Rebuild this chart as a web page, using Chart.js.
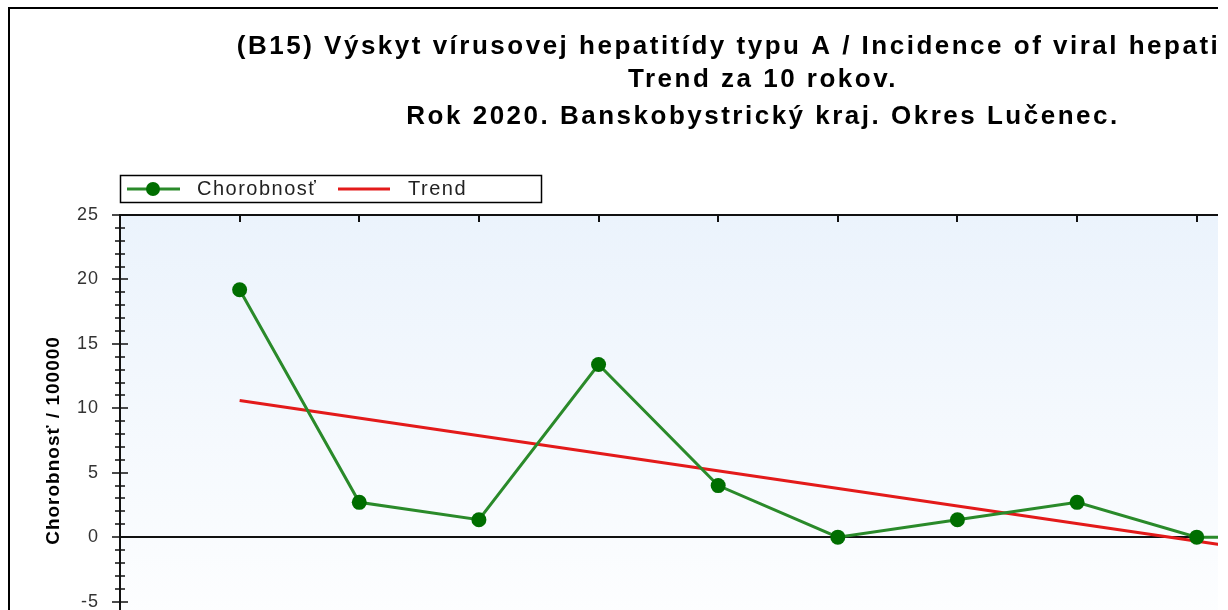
<!DOCTYPE html>
<html>
<head>
<meta charset="utf-8">
<script src="https://cdn.jsdelivr.net/npm/chart.js@4.4.1/dist/chart.umd.min.js"></script>
<style>
  html, body { margin: 0; padding: 0; background: #fff; }
  #clip { position: absolute; left: 0; top: 0; width: 1218px; height: 610px; overflow: hidden; }
  #frame { position: absolute; left: 8px; top: 7px; border: 2px solid #000; background: #fff; }
  #chart { display: block; }
</style>
</head>
<body>
<div id="clip">
  <div id="frame">
    <canvas id="chart" width="1506" height="720"></canvas>
  </div>
</div>
<script>
// hodnoty odčítané z grafu
const titleLines = [
  '(B15) Výskyt vírusovej hepatitídy typu A / Incidence of viral hepatitis A',
  'Trend za 10 rokov.',
  'Rok 2020. Banskobystrický kraj. Okres Lučenec.'
];
const years = [2011, 2012, 2013, 2014, 2015, 2016, 2017, 2018, 2019, 2020];
const morbidity = [19.2, 2.7, 1.35, 13.4, 4.0, 0, 1.35, 2.7, 0, 0];
const trendYears = [2011, 2020];
const trendValues = [10.6, -1.67];
const yTicks = [-10, -5, 0, 5, 10, 15, 20, 25];
const yTitle = 'Chorobnosť / 100000';

const GREEN = '#2a8a2a';
const GREEN_DOT = '#006e00';
const RED = '#e31a1a';

// pozadie, rámik, značky na osiach, nadpis a legenda
const decor = {
  id: 'decor',
  beforeDraw(chart) {
    const { ctx, chartArea: a } = chart;
    ctx.save();
    const g = ctx.createLinearGradient(0, a.top, 0, a.bottom);
    g.addColorStop(0, '#ebf3fc');
    g.addColorStop(1, '#ffffff');
    ctx.fillStyle = g;
    ctx.fillRect(a.left, a.top, a.right - a.left, a.bottom - a.top);
    ctx.restore();
    ctx.letterSpacing = '1px';
  },
  afterDraw(chart) {
    const { ctx, chartArea: a, scales } = chart;
    ctx.save();
    ctx.letterSpacing = '0px';
    ctx.strokeStyle = '#111';
    ctx.lineWidth = 2;
    ctx.strokeRect(a.left, a.top, a.right - a.left, a.bottom - a.top);

    // x značky dovnútra
    ctx.beginPath();
    years.forEach(y => {
      const x = Math.round(scales.x.getPixelForValue(y));
      ctx.moveTo(x, a.top); ctx.lineTo(x, a.top + 7);
      ctx.moveTo(x, a.bottom); ctx.lineTo(x, a.bottom - 7);
    });
    ctx.stroke();
    // y značky krížom cez os
    ctx.lineWidth = 1.5;
    ctx.beginPath();
    for (let v = scales.y.min; v <= scales.y.max; v++) {
      const y = Math.round(scales.y.getPixelForValue(v));
      const len = v % 5 === 0 ? 8 : 5;
      ctx.moveTo(a.left - len, y); ctx.lineTo(a.left + len, y);
    }
    ctx.stroke();

    // nadpis
    ctx.fillStyle = '#000';
    ctx.font = 'bold 26px "Liberation Sans", Arial, sans-serif';
    ctx.letterSpacing = '2.5px';
    ctx.textAlign = 'center';
    ctx.textBaseline = 'middle';
    const ys = [38, 71, 108];
    titleLines.forEach((t, i) => ctx.fillText(t, chart.width / 2, ys[i]));

    // legenda
    const lx = a.left, ly = 166, lw = 421, lh = 27;
    ctx.fillStyle = '#fff';
    ctx.fillRect(lx, ly, lw, lh);
    ctx.strokeStyle = '#000';
    ctx.lineWidth = 1.5;
    ctx.strokeRect(lx + 0.5, ly + 0.5, lw, lh);
    const my = ly + lh / 2 + 0.5;
    const ds = chart.data.datasets;
    ctx.lineWidth = 3;
    ctx.strokeStyle = ds[0].borderColor;
    ctx.beginPath(); ctx.moveTo(lx + 7, my); ctx.lineTo(lx + 60, my); ctx.stroke();
    ctx.fillStyle = ds[0].pointBackgroundColor;
    ctx.beginPath(); ctx.arc(lx + 33, my, 7, 0, Math.PI * 2); ctx.fill();
    ctx.strokeStyle = ds[1].borderColor;
    ctx.beginPath(); ctx.moveTo(lx + 218, my); ctx.lineTo(lx + 270, my); ctx.stroke();
    ctx.fillStyle = '#222';
    ctx.font = '20px "Liberation Sans", Arial, sans-serif';
    ctx.letterSpacing = '1.5px';
    ctx.textAlign = 'left';
    ctx.fillText(ds[0].label, lx + 77, my);
    ctx.fillText(ds[1].label, lx + 288, my);
    ctx.restore();
  }
};

const ctx = document.getElementById('chart').getContext('2d');
new Chart(ctx, {
  type: 'line',
  data: {
    datasets: [
      {
        label: 'Chorobnosť',
        data: years.map((y, i) => ({ x: y, y: morbidity[i] })),
        borderColor: GREEN,
        borderWidth: 3,
        pointRadius: 7.5,
        pointBackgroundColor: GREEN_DOT,
        pointBorderColor: GREEN_DOT,
        pointBorderWidth: 0,
        tension: 0,
        order: 1
      },
      {
        label: 'Trend',
        data: trendYears.map((y, i) => ({ x: y, y: trendValues[i] })),
        borderColor: RED,
        borderWidth: 3,
        pointRadius: 0,
        tension: 0,
        order: 2
      }
    ]
  },
  options: {
    responsive: false,
    animation: false,
    layout: { padding: { top: 206, left: 0, right: 80, bottom: 23 } },
    plugins: {
      legend: { display: false },
      title: { display: false },
      tooltip: { enabled: false }
    },
    scales: {
      x: {
        type: 'linear',
        min: 2010,
        max: 2021,
        afterBuildTicks: s => { s.ticks = years.map(v => ({ value: v })); },
        afterFit: s => { s.height = 40; },
        grid: { display: false, drawTicks: false },
        border: { color: '#111', width: 2 },
        ticks: {
          padding: 10,
          color: '#333',
          font: { family: '"Liberation Sans", Arial, sans-serif', size: 18 },
          callback: v => String(v)
        }
      },
      y: {
        min: -10,
        max: 25,
        afterBuildTicks: s => { s.ticks = yTicks.map(v => ({ value: v })); },
        afterFit: s => { s.width = 110; },
        grid: {
          drawTicks: false,
          color: c => (c.tick && c.tick.value === 0 ? '#111' : 'rgba(0,0,0,0)'),
          lineWidth: 2
        },
        border: { color: '#111', width: 2 },
        ticks: {
          padding: 21,
          color: '#333',
          font: { family: '"Liberation Sans", Arial, sans-serif', size: 18 }
        },
        title: {
          display: true,
          text: yTitle,
          color: '#000',
          padding: { top: 32, bottom: 0 },
          font: { family: '"Liberation Sans", Arial, sans-serif', size: 19, weight: 'bold' }
        }
      }
    }
  },
  plugins: [decor]
});
</script>
</body>
</html>
